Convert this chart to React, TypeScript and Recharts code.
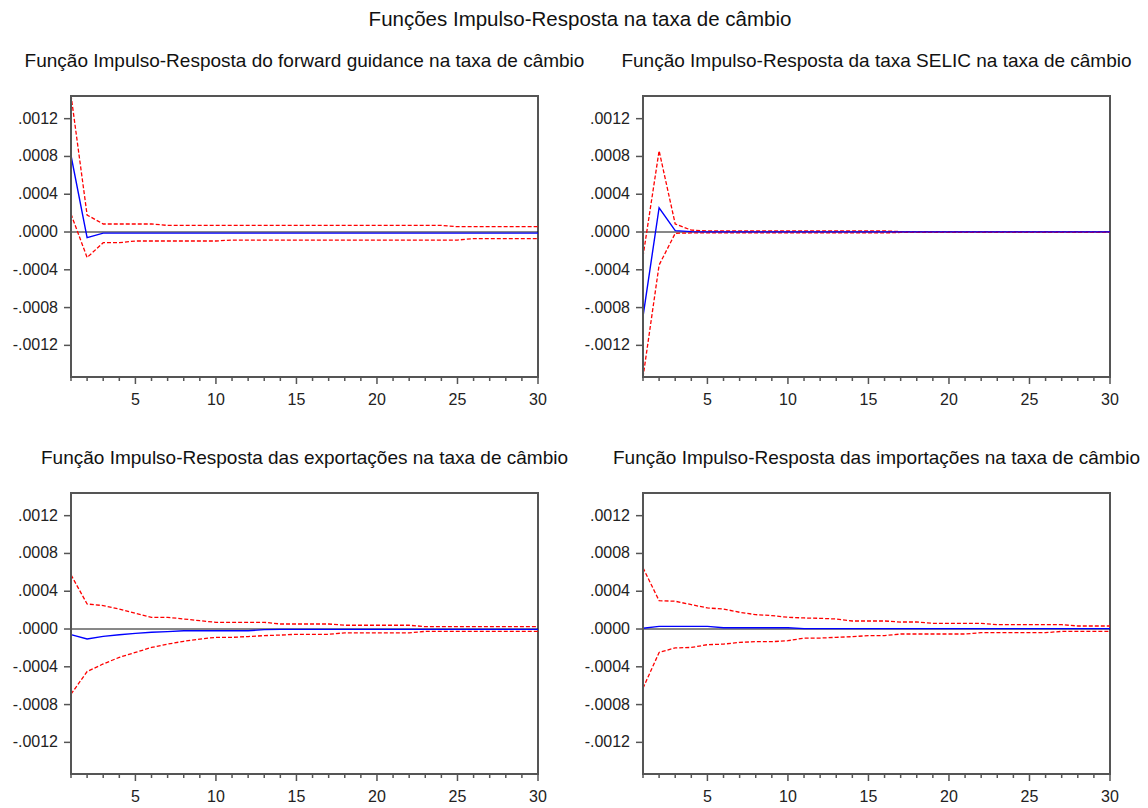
import { Line, LineChart, ReferenceArea, ReferenceLine, XAxis, YAxis } from 'recharts';

const periods = [
  1, 2, 3, 4, 5, 6, 7, 8, 9, 10, 11, 12, 13, 14, 15, 16, 17, 18, 19, 20, 21, 22, 23, 24, 25, 26, 27, 28, 29, 30,
];
const yTicks = [-0.0012, -0.0008, -0.0004, 0, 0.0004, 0.0008, 0.0012];
const yMin = -0.001535;
const yMax = 0.00144;

const mainTitle = 'Funções Impulso-Resposta na taxa de câmbio';
const panelTitles = [
  'Função Impulso-Resposta do forward guidance na taxa de câmbio',
  'Função Impulso-Resposta da taxa SELIC na taxa de câmbio',
  'Função Impulso-Resposta das exportações na taxa de câmbio',
  'Função Impulso-Resposta das importações na taxa de câmbio',
];

// forward guidance
const fgResp = [
  0.00081, -0.00006, -0.000012, -0.000012, -0.000012, -0.000012, -0.000012, -0.000012, -0.000012, -0.000012,
  -0.000012, -0.000012, -0.000012, -0.000012, -0.000012, -0.000012, -0.000012, -0.000012, -0.000012, -0.000012,
  -0.000012, -0.000012, -0.000012, -0.000012, -0.000012, -0.000012, -0.000012, -0.000012, -0.000012, -0.000012,
];
const fgUpper = [
  0.00145, 0.00018, 0.000085, 0.000085, 0.000085, 0.000085, 0.00007, 0.00007, 0.00007, 0.00007,
  0.00007, 0.00007, 0.00007, 0.00007, 0.00007, 0.00007, 0.00007, 0.00007, 0.00007, 0.00007,
  0.00007, 0.00007, 0.00007, 0.00007, 0.000056, 0.000056, 0.000056, 0.000056, 0.000056, 0.000056,
];
const fgLower = [
  0.00019, -0.00027, -0.000113, -0.000113, -0.000095, -0.000095, -0.000095, -0.000095, -0.000095, -0.000095,
  -0.000085, -0.000085, -0.000085, -0.000085, -0.000085, -0.000085, -0.000085, -0.000085, -0.000085, -0.000085,
  -0.000085, -0.000085, -0.000085, -0.000085, -0.000085, -0.00007, -0.00007, -0.00007, -0.00007, -0.00007,
];

// SELIC
const selicResp = [
  -0.000895, 0.000257, 0.000014, 0.000004, 0.000002, 0.000002, 0.000002, 0.000002, 0.000002, 0.000002,
  0.000002, 0.000002, 0.000002, 0.000002, 0.000002, 0.000002, 0.000001, 0.000001, 0.000001, 0.000001,
  0.000001, 0.000001, 0.000001, 0.000001, 0.000001, 0.000001, 0.000001, 0.000001, 0.000001, 0.000001,
];
const selicUpper = [
  -0.00026, 0.00086, 0.000085, 0.00002, 0.000012, 0.000012, 0.000012, 0.000012, 0.000012, 0.000012,
  0.000012, 0.000012, 0.000012, 0.000012, 0.000012, 0.000012, 0.000004, 0.000004, 0.000004, 0.000004,
  0.000004, 0.000004, 0.000004, 0.000004, 0.000004, 0.000004, 0.000004, 0.000004, 0.000004, 0.000004,
];
const selicLower = [
  -0.00154, -0.00035, -0.000014, -0.00001, -0.00001, -0.00001, -0.00001, -0.00001, -0.00001, -0.00001,
  -0.00001, -0.00001, -0.00001, -0.00001, -0.00001, -0.00001, -0.000004, -0.000004, -0.000004, -0.000004,
  -0.000004, -0.000004, -0.000004, -0.000004, -0.000004, -0.000004, -0.000004, -0.000004, -0.000004, -0.000004,
];

// exportações
const expResp = [
  -0.00006, -0.000106, -0.000078, -0.00006, -0.000046, -0.000035, -0.000028, -0.000018, -0.000018, -0.000018,
  -0.000018, -0.000018, -0.000007, -0.000004, -0.000004, -0.000004, -0.000004, -0.000004, -0.000004, -0.000004,
  -0.000004, -0.000004, -0.000004, -0.000004, -0.000004, -0.000004, -0.000004, -0.000004, -0.000004, -0.000004,
];
const expUpper = [
  0.000573, 0.000265, 0.000248, 0.000212, 0.000166, 0.000124, 0.000124, 0.000106, 0.000088, 0.000071,
  0.000071, 0.000071, 0.000071, 0.000053, 0.000053, 0.000053, 0.000053, 0.00004, 0.00004, 0.00004,
  0.00004, 0.00004, 0.000025, 0.000025, 0.000025, 0.000025, 0.000025, 0.000025, 0.000025, 0.000025,
];
const expLower = [
  -0.00069, -0.00045, -0.00037, -0.0003, -0.000248, -0.000195, -0.00016, -0.00013, -0.000106, -0.000088,
  -0.000088, -0.00008, -0.00007, -0.000064, -0.000056, -0.000056, -0.000056, -0.00004, -0.00004, -0.00004,
  -0.00004, -0.00004, -0.000025, -0.000025, -0.000025, -0.000025, -0.000025, -0.000025, -0.000025, -0.000025,
];

// importações
const impResp = [
  0.000008, 0.000028, 0.000028, 0.000028, 0.000028, 0.000014, 0.000014, 0.000014, 0.000014, 0.000014,
  0.000004, 0.000004, 0.000004, 0.000004, 0.000004, 0.000004, 0.000004, 0.000004, 0.000004, 0.000004,
  0.000004, 0.000004, 0.000004, 0.000004, 0.000004, 0.000004, 0.000004, 0.000004, 0.000004, 0.000004,
];
const impUpper = [
  0.000648, 0.0003, 0.000294, 0.000258, 0.000223, 0.000212, 0.000177, 0.000152, 0.000142, 0.000124,
  0.000117, 0.000113, 0.000106, 0.000085, 0.000085, 0.000085, 0.000074, 0.000074, 0.00006, 0.00006,
  0.00006, 0.00006, 0.000046, 0.000046, 0.000046, 0.000046, 0.000046, 0.000032, 0.000032, 0.000032,
];
const impLower = [
  -0.000627, -0.000248, -0.0002, -0.000195, -0.000166, -0.00016, -0.000142, -0.000134, -0.000134, -0.000124,
  -0.000096, -0.000096, -0.000088, -0.000081, -0.00007, -0.00007, -0.000053, -0.000053, -0.000053, -0.000053,
  -0.000053, -0.000039, -0.000039, -0.000039, -0.000039, -0.000039, -0.000025, -0.000025, -0.000025, -0.000025,
];

const FONT = 'Arial, "Liberation Sans", sans-serif';
const AXIS = '#555';

function fmtY(v: number) {
  return (v < 0 ? '-' : '') + Math.abs(v).toFixed(4).replace(/^0/, '');
}

function XTick(props: any) {
  const { x, y, payload } = props;
  const major = payload.value % 5 === 0;
  return (
    <g>
      <line x1={x} x2={x} y1={y} y2={y + (major ? 7 : 4)} stroke={AXIS} strokeWidth={1.5} />
      {major && (
        <text x={x} y={y + 28} textAnchor="middle" fontSize={16} fontFamily={FONT} fill="#222">
          {payload.value}
        </text>
      )}
    </g>
  );
}

function YTick(props: any) {
  const { x, y, payload } = props;
  return (
    <g>
      <line x1={x - 7} x2={x} y1={y} y2={y} stroke={AXIS} strokeWidth={1.5} />
      <text x={x - 13} y={y + 5} textAnchor="end" fontSize={16} fontFamily={FONT} fill="#222">
        {fmtY(payload.value)}
      </text>
    </g>
  );
}

interface PanelProps {
  left: number;
  top: number;
  title: string;
  resp: number[];
  upper: number[];
  lower: number[];
}

function Panel({ left, top, title, resp, upper, lower }: PanelProps) {
  const data = periods.map((p, i) => ({ p, resp: resp[i], upper: upper[i], lower: lower[i] }));
  return (
    <div style={{ position: 'absolute', left, top, width: 560, height: 330 }}>
      <div
        style={{
          position: 'absolute',
          left: 71,
          width: 467,
          top: -29,
          display: 'flex',
          justifyContent: 'center',
          fontSize: 19,
          lineHeight: '19px',
          whiteSpace: 'nowrap',
          color: '#111',
        }}
      >
        {title}
      </div>
      <LineChart width={560} height={330} data={data} margin={{ top: 16, right: 22, bottom: 3, left: 0 }}>
        <XAxis
          type="number"
          dataKey="p"
          domain={[1, 30]}
          ticks={periods}
          interval={0}
          height={30}
          tickSize={0}
          tickMargin={0}
          tick={<XTick />}
          axisLine={{ stroke: AXIS, strokeWidth: 2 }}
          tickLine={false}
        />
        <YAxis
          type="number"
          domain={[yMin, yMax]}
          allowDataOverflow
          ticks={yTicks}
          interval={0}
          width={71}
          tickSize={0}
          tickMargin={0}
          tick={<YTick />}
          axisLine={{ stroke: AXIS, strokeWidth: 2 }}
          tickLine={false}
        />
        <ReferenceArea x1={1} x2={30} y1={yMin} y2={yMax} fill="none" stroke={AXIS} strokeWidth={2} />
        <ReferenceLine y={0} stroke="#111" strokeWidth={1} />
        <Line dataKey="upper" stroke="#ff0000" strokeWidth={1.3} strokeDasharray="4 2" dot={false} isAnimationActive={false} />
        <Line dataKey="lower" stroke="#ff0000" strokeWidth={1.3} strokeDasharray="4 2" dot={false} isAnimationActive={false} />
        <Line dataKey="resp" stroke="#0000ff" strokeWidth={1.4} dot={false} isAnimationActive={false} />
      </LineChart>
    </div>
  );
}

export default function App() {
  return (
    <div
      style={{
        position: 'absolute',
        left: 0,
        top: 0,
        width: 1148,
        height: 808,
        background: '#fff',
        fontFamily: FONT,
      }}
    >
      <div
        style={{
          position: 'absolute',
          left: 0,
          width: 1160,
          top: 8,
          textAlign: 'center',
          fontSize: 20.5,
          lineHeight: '21px',
          color: '#111',
        }}
      >
        {mainTitle}
      </div>
      <Panel left={0} top={80} title={panelTitles[0]} resp={fgResp} upper={fgUpper} lower={fgLower} />
      <Panel left={572} top={80} title={panelTitles[1]} resp={selicResp} upper={selicUpper} lower={selicLower} />
      <Panel left={0} top={477} title={panelTitles[2]} resp={expResp} upper={expUpper} lower={expLower} />
      <Panel left={572} top={477} title={panelTitles[3]} resp={impResp} upper={impUpper} lower={impLower} />
    </div>
  );
}
